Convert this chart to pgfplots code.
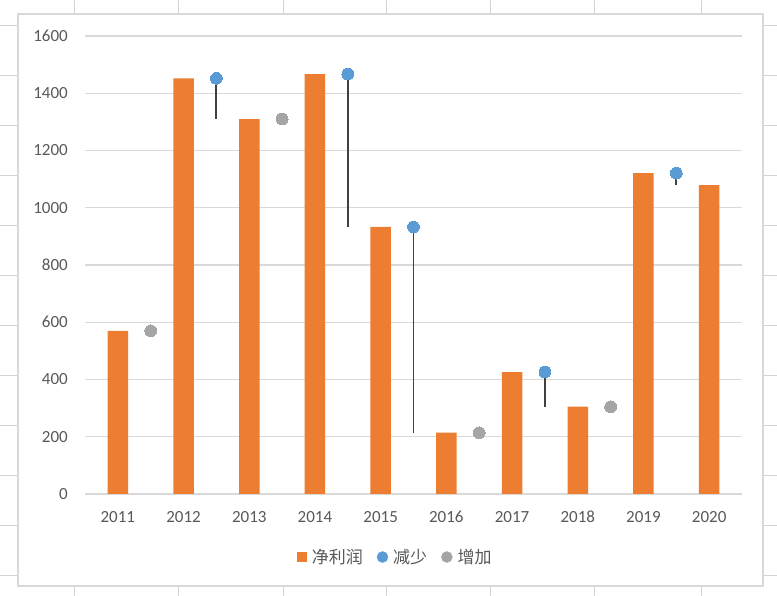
\documentclass[border=0pt]{standalone}
\usepackage{pgfplots}
\pgfplotsset{compat=1.18}
\usepackage{fontspec}
\setmainfont{Carlito}
\newfontfamily\cjk{Noto Sans CJK SC}
\definecolor{barorange}{HTML}{ED7D31}
\definecolor{dotblue}{HTML}{5B9BD5}
\definecolor{dotgray}{HTML}{A5A5A5}
\definecolor{linegray}{HTML}{404040}
\definecolor{gridgray}{HTML}{D9D9D9}
\definecolor{sheetgray}{HTML}{D4D4D4}
\definecolor{textgray}{HTML}{595959}
\begin{document}
\begin{tikzpicture}[x=1pt,y=1pt]
\path[use as bounding box, fill=white] (0pt,0pt) rectangle (777pt,596pt);
\foreach \yy in {26,76,...,576} \draw[sheetgray, line width=1pt] (0pt,596pt-\yy pt) -- (777pt,596pt-\yy pt);
\foreach \xx in {74,178,283,386,490,594,701} \draw[sheetgray, line width=1pt] (\xx pt,0pt) -- (\xx pt,596pt);
\filldraw[fill=white, draw=gridgray, line width=1.8pt] (18pt,10pt) rectangle (763pt,582pt);
\begin{axis}[
  at={(85pt,102pt)}, anchor=south west,
  scale only axis, width=657pt, height=458pt,
  xmin=-0.5, xmax=9.5, ymin=0, ymax=1600,
  axis x line*=bottom, axis y line*=left,
  x axis line style={draw=gridgray, line width=1.3pt, -},
  y axis line style={draw=none},
  major tick length=0pt,
  ytick={0,200,...,1600},
  xtick={0,...,9},
  xticklabels={2011,2012,2013,2014,2015,2016,2017,2018,2019,2020},
  ymajorgrids, grid style={draw=gridgray, line width=1.3pt},
  tick label style={font=\fontsize{17}{20}\selectfont, text=textgray},
  /pgf/number format/assume math mode=true,
  /pgf/number format/1000 sep={},
  yticklabel style={anchor=east, inner sep=0pt, xshift=-17pt},
  xticklabel style={anchor=north, inner sep=0pt, yshift=-17pt},
  clip=false,
  legend columns=3,
  legend style={at={(0.471,-0.1376)}, anchor=center, draw=none, fill=none,
    font=\cjk\fontsize{17}{20}\selectfont, text=textgray,
    nodes={inner sep=0pt},
    /tikz/every odd column/.append style={column sep=5pt},
    /tikz/every even column/.append style={column sep=14pt}},
]
\addplot[ybar, bar width=20.5pt, fill=barorange, draw=none,
  legend image code/.code={\fill[barorange] (0pt,-4.75pt) rectangle (9.5pt,4.75pt);}]
  coordinates {(0,570) (1,1452) (2,1310) (3,1467) (4,933) (5,214) (6,426) (7,305) (8,1121) (9,1079)};
\addlegendentry{净利润}
\addplot[color=linegray, line width=1.9pt, forget plot] coordinates {(1.5,1452) (1.5,1310)};
\addplot[color=linegray, line width=1.9pt, forget plot] coordinates {(3.5,1467) (3.5,933)};
\addplot[color=linegray, line width=1.9pt, forget plot] coordinates {(4.5,933) (4.5,214)};
\addplot[color=linegray, line width=1.9pt, forget plot] coordinates {(6.5,426) (6.5,305)};
\addplot[color=linegray, line width=1.9pt, forget plot] coordinates {(8.5,1121) (8.5,1079)};
\addplot[color=dotblue, only marks, mark=*, mark size=5.9pt, mark options={fill=dotblue, draw=dotblue, line width=0pt},
  legend image code/.code={\fill[dotblue] (5.5pt,0pt) circle (5.5pt);}]
  coordinates {(1.5,1452) (3.5,1467) (4.5,933) (6.5,426) (8.5,1121)};
\addlegendentry{减少}
\addplot[color=dotgray, only marks, mark=*, mark size=5.9pt, mark options={fill=dotgray, draw=dotgray, line width=0pt},
  legend image code/.code={\fill[dotgray] (5.5pt,0pt) circle (5.5pt);}]
  coordinates {(0.5,570) (2.5,1310) (5.5,214) (7.5,305)};
\addlegendentry{增加}
\end{axis}
\end{tikzpicture}
\end{document}
